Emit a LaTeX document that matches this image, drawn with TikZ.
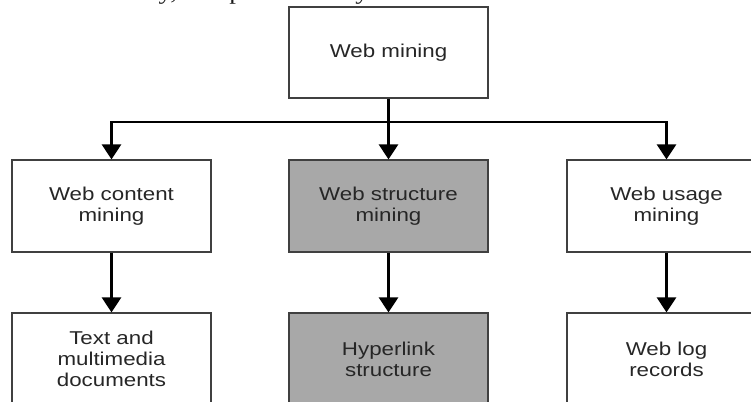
\documentclass[tikz,border=0pt]{standalone}
\usepackage{fontspec}
\newfontfamily\diagfont[FakeStretch=1.2]{Liberation Sans}
\newfontfamily\capfont[FakeStretch=1.2]{Liberation Serif}
\usetikzlibrary{arrows.meta}
\begin{document}
\begin{tikzpicture}[x=1pt,y=-1pt,
  box/.style={draw=black!75, line width=1.2pt, minimum width=199pt, minimum height=92pt,
    inner sep=0pt, align=center, font=\diagfont\fontsize{18.6}{21}\selectfont, text=black!85},
  shaded/.style={box, fill=black!34},
  link/.style={line width=2.8pt},
  conn/.style={link, -{Triangle[width=19pt,length=15pt]}},
  ]
\useasboundingbox (0,0) rectangle (751,401);
\clip (0,0) rectangle (751,401);
\node[anchor=base west, inner sep=0pt, text=black!90,
  font=\capfont\fontsize{22.4}{26}\selectfont] (cap) at (-14,0) {pattern discovery, and pattern analysis.};
\node[box, minimum height=91pt] (wm) at (388.5,52.5) {Web mining};
\node[box] (wc) at (111.5,206) {Web content\\mining};
\node[shaded] (ws) at (388.5,206) {Web structure\\mining};
\node[box] (wu) at (666.5,206) {Web usage\\mining};
\node[box] (td) at (111.5,359) {Text and\\multimedia\\documents};
\node[shaded] (hs) at (388.5,359) {Hyperlink\\structure};
\node[box] (wl) at (666.5,359) {Web log\\records};
\coordinate (j) at (388.5,122);
\draw[link] (wm.south) -- (j);
\draw[conn] (j) -- (ws.north);
\draw[conn] (j) -| (wc.north);
\draw[conn] (j) -| (wu.north);
\draw[conn] (wc.south) -- (td.north);
\draw[conn] (ws.south) -- (hs.north);
\draw[conn] (wu.south) -- (wl.north);
\end{tikzpicture}
\end{document}
